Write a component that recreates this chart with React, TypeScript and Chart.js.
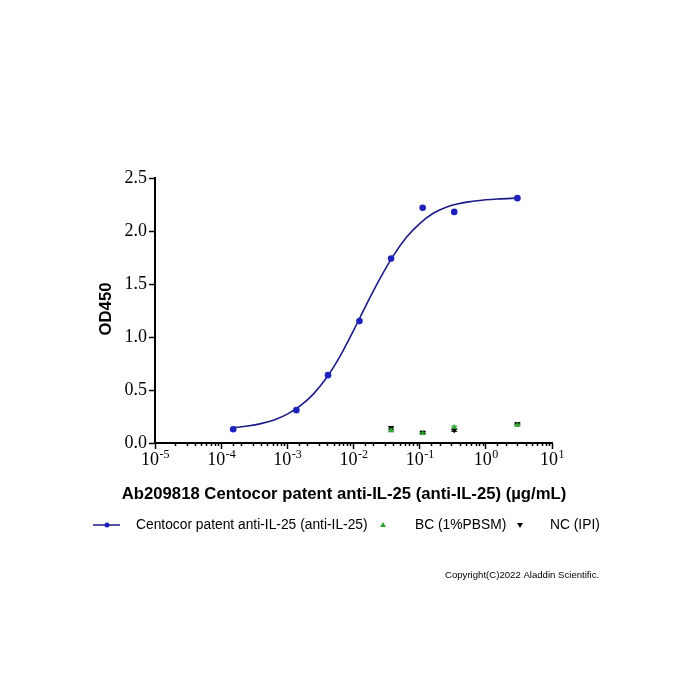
import React, { useEffect, useRef } from "react";
import { Chart, registerables } from "chart.js";

Chart.register(...registerables);

// Concentrations (µg/mL) and OD450 readings
const sampleX = [0.000152, 0.00137, 0.00412, 0.0123, 0.037, 0.111, 0.333, 3.0];
const sampleY = [0.13, 0.31, 0.64, 1.15, 1.74, 2.22, 2.18, 2.31];

// Fitted curve
const curveX = [0.000151, 0.000251, 0.000398, 0.000631, 0.001, 0.00158, 0.00251, 0.00398, 0.00631, 0.01, 0.0158, 0.0251, 0.0398, 0.0631, 0.1, 0.158, 0.251, 0.398, 0.631, 1.0, 1.58, 3.0];
const curveY = [0.143, 0.16, 0.183, 0.218, 0.272, 0.352, 0.466, 0.622, 0.822, 1.06, 1.31, 1.55, 1.765, 1.94, 2.07, 2.165, 2.225, 2.26, 2.28, 2.295, 2.303, 2.31];

const controlX = [0.037, 0.111, 0.333, 3.0];
const bcY = [0.12, 0.09, 0.15, 0.17];
const bcErr = [0.015, 0.01, 0.01, 0.01];
const ncY = [0.14, 0.1, 0.12, 0.18];
const ncErr = [0.015, 0.01, 0.01, 0.01];

const yTicks = [0, 0.5, 1.0, 1.5, 2.0, 2.5];
const xDecades = [-5, -4, -3, -2, -1, 0, 1];

const titleX = "Ab209818 Centocor patent anti-IL-25 (anti-IL-25) (\u00b5g/mL)";
const titleY = "OD450";
const legendLabels = ["Centocor patent anti-IL-25 (anti-IL-25)", "BC (1%PBSM)", "NC (IPI)"];
const copyright = "Copyright(C)2022 Aladdin Scientific.";

const NAVY = "#1b1b86";
const BLUE = "#2020bb";
const GREEN = "#2fa82f";
const BLACK = "#000000";
const SERIF = "'Liberation Serif', 'Times New Roman', serif";
const SANS = "'Liberation Sans', Arial, sans-serif";

const isDecade = (v: number) => {
  const l = Math.log10(v);
  return Math.abs(l - Math.round(l)) < 1e-9;
};

const decorPlugin = {
  id: "decor",
  beforeDatasetsDraw(chart: any) {
    // small error bars on the control points
    const ctx = chart.ctx as CanvasRenderingContext2D;
    const xs = chart.scales.x;
    const ys = chart.scales.y;
    ctx.save();
    ctx.lineWidth = 1;
    const draw = (vals: number[], errs: number[], col: string) => {
      ctx.strokeStyle = col;
      controlX.forEach((x, i) => {
        const px = xs.getPixelForValue(x);
        const y1 = ys.getPixelForValue(vals[i] + errs[i]);
        const y2 = ys.getPixelForValue(vals[i] - errs[i]);
        ctx.beginPath();
        ctx.moveTo(px, y1);
        ctx.lineTo(px, y2);
        ctx.moveTo(px - 3, y1);
        ctx.lineTo(px + 3, y1);
        ctx.moveTo(px - 3, y2);
        ctx.lineTo(px + 3, y2);
        ctx.stroke();
      });
    };
    draw(ncY, ncErr, BLACK);
    draw(bcY, bcErr, GREEN);
    ctx.restore();
  },
  afterDraw(chart: any) {
    const ctx = chart.ctx as CanvasRenderingContext2D;
    const xs = chart.scales.x;
    const area = chart.chartArea;
    ctx.save();
    // minor ticks
    ctx.strokeStyle = BLACK;
    ctx.lineWidth = 1.5;
    xs.ticks.forEach((t: any) => {
      if (!isDecade(t.value)) {
        const px = Math.round(xs.getPixelForValue(t.value)) + 0.5;
        ctx.beginPath();
        ctx.moveTo(px, area.bottom);
        ctx.lineTo(px, area.bottom + 3);
        ctx.stroke();
      }
    });
    // x tick labels with superscript exponents
    ctx.fillStyle = BLACK;
    ctx.textAlign = "left";
    ctx.textBaseline = "alphabetic";
    xDecades.forEach((e) => {
      const px = xs.getPixelForValue(Math.pow(10, e));
      const base = "10";
      const exp = e < 0 ? "-" + String(-e) : String(e);
      ctx.font = `18px ${SERIF}`;
      const wb = ctx.measureText(base).width;
      ctx.font = `12px ${SERIF}`;
      const we = ctx.measureText(exp).width;
      const x0 = px - (wb + we) / 2;
      ctx.font = `18px ${SERIF}`;
      ctx.fillText(base, x0, 465);
      ctx.font = `12px ${SERIF}`;
      ctx.fillText(exp, x0 + wb + 0.5, 458);
    });

    // axis titles
    ctx.font = `bold 16.7px ${SANS}`;
    ctx.textAlign = "center";
    ctx.textBaseline = "middle";
    ctx.fillText(titleX, 344, 494);
    ctx.save();
    ctx.translate(106, 309);
    ctx.rotate(-Math.PI / 2);
    ctx.fillText(titleY, 0, 0);
    ctx.restore();

    // legend
    const ly = 525;
    ctx.strokeStyle = NAVY;
    ctx.lineWidth = 1.5;
    ctx.beginPath();
    ctx.moveTo(93, ly);
    ctx.lineTo(120, ly);
    ctx.stroke();
    ctx.fillStyle = BLUE;
    ctx.beginPath();
    ctx.arc(107, ly, 2.5, 0, Math.PI * 2);
    ctx.fill();
    // green triangle
    ctx.fillStyle = GREEN;
    ctx.beginPath();
    ctx.moveTo(383, ly - 3);
    ctx.lineTo(386, ly + 2);
    ctx.lineTo(380, ly + 2);
    ctx.closePath();
    ctx.fill();
    // black down triangle
    ctx.fillStyle = BLACK;
    ctx.beginPath();
    ctx.moveTo(520, ly + 3);
    ctx.lineTo(523, ly - 2);
    ctx.lineTo(517, ly - 2);
    ctx.closePath();
    ctx.fill();

    ctx.fillStyle = BLACK;
    ctx.font = `13.8px ${SANS}`;
    ctx.textAlign = "left";
    ctx.fillText(legendLabels[0], 136, ly);
    ctx.fillText(legendLabels[1], 415, ly);
    ctx.fillText(legendLabels[2], 550, ly);

    ctx.font = `9.6px ${SANS}`;
    ctx.fillText(copyright, 445, 575);
    ctx.restore();
  },
};

export default function App() {
  const ref = useRef<HTMLCanvasElement | null>(null);
  useEffect(() => {
    if (!ref.current) return;
    const chart = new Chart(ref.current, {
      type: "scatter",
      data: {
        datasets: [
          {
            type: "line",
            label: "fit",
            data: curveX.map((x, i) => ({ x, y: curveY[i] })),
            borderColor: NAVY,
            borderWidth: 1.6,
            pointRadius: 0,
            tension: 0.4,
            cubicInterpolationMode: "monotone",
            fill: false,
            order: 3,
          } as any,
          {
            label: legendLabels[0],
            data: sampleX.map((x, i) => ({ x, y: sampleY[i] })),
            backgroundColor: BLUE,
            borderColor: BLUE,
            pointRadius: 3.3,
            borderWidth: 0,
            order: 0,
          },
          {
            label: legendLabels[1],
            data: controlX.map((x, i) => ({ x, y: bcY[i] })),
            backgroundColor: GREEN,
            borderColor: GREEN,
            pointStyle: "triangle",
            pointRadius: 3.2,
            borderWidth: 0,
            order: 1,
          },
          {
            label: legendLabels[2],
            data: controlX.map((x, i) => ({ x, y: ncY[i] })),
            backgroundColor: BLACK,
            borderColor: BLACK,
            pointStyle: "triangle",
            rotation: 180,
            pointRadius: 3.2,
            borderWidth: 0,
            order: 2,
          } as any,
        ],
      },
      options: {
        responsive: false,
        animation: false,
        layout: { padding: { top: 178, right: 148, bottom: 0, left: 0 } },
        plugins: { legend: { display: false }, tooltip: { enabled: false }, title: { display: false } },
        scales: {
          x: {
            type: "logarithmic",
            min: 1e-5,
            max: 10,
            afterFit: (s: any) => { s.height = 257; },
            border: { display: true, color: BLACK, width: 2 },
            grid: {
              display: true,
              drawOnChartArea: false,
              drawTicks: true,
              tickLength: 6,
              tickWidth: 1.5,
              tickColor: (c: any) => (c.tick && isDecade(c.tick.value) ? BLACK : "rgba(0,0,0,0)"),
            },
            ticks: {
              autoSkip: false,
              maxRotation: 0,
              color: "rgba(0,0,0,0)",
              callback: () => "",
            },
          },
          y: {
            min: 0,
            max: 2.5,
            afterFit: (s: any) => { s.width = 155; },
            afterBuildTicks: (s: any) => { s.ticks = yTicks.map((v) => ({ value: v })); },
            border: { display: true, color: BLACK, width: 2 },
            grid: {
              display: true,
              drawOnChartArea: false,
              drawTicks: true,
              tickLength: 6,
              tickWidth: 1.5,
              tickColor: BLACK,
            },
            ticks: {
              padding: 2,
              color: BLACK,
              font: { family: SERIF, size: 18 },
              callback: (v: any) => Number(v).toFixed(1),
            },
          },
        },
      },
      plugins: [decorPlugin],
    });
    return () => chart.destroy();
  }, []);
  return (
    <div style={{ position: "absolute", left: 0, top: 0, width: 700, height: 700, background: "#fff" }}>
      <canvas ref={ref} width={700} height={700} style={{ width: 700, height: 700 }} />
    </div>
  );
}
